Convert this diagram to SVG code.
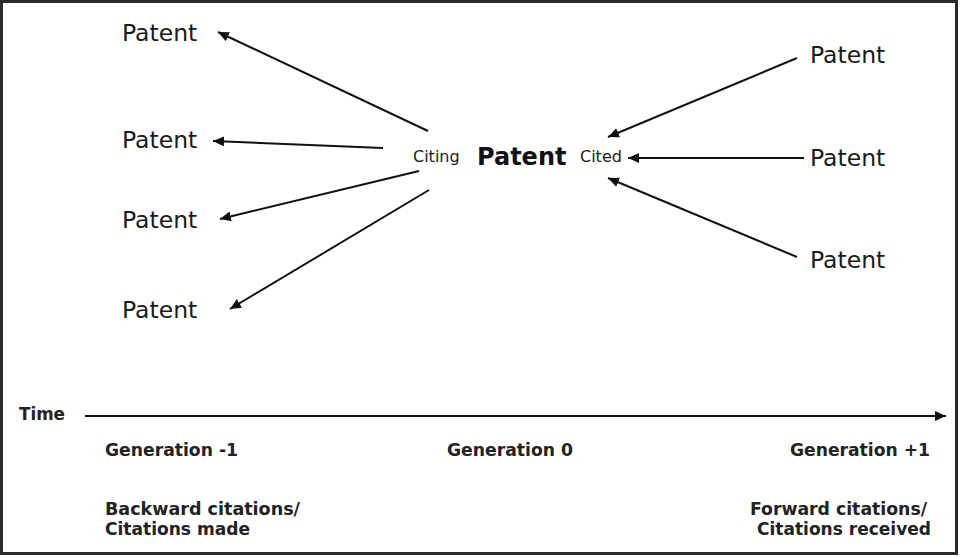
<svg xmlns="http://www.w3.org/2000/svg" width="960" height="557" viewBox="0 0 960 557">
<style>
.p{font-family:"DejaVu Sans","Liberation Sans",sans-serif;font-size:23.5px;fill:#1a1a1a}
.s{font-family:"DejaVu Sans","Liberation Sans",sans-serif;font-size:16px;fill:#1a1a1a}
.c{font-family:"DejaVu Sans","Liberation Sans",sans-serif;font-size:24px;font-weight:bold;fill:#111}
.b{font-family:"DejaVu Sans Condensed","DejaVu Sans","Liberation Sans",sans-serif;font-stretch:condensed;font-size:17px;font-weight:bold;fill:#222}
.l{stroke:#111;stroke-width:2;fill:none;marker-end:url(#ah)}
</style>
<defs>
<marker id="ah" markerUnits="userSpaceOnUse" markerWidth="12" markerHeight="10" refX="11" refY="5" orient="auto">
<path d="M0,0 L11,5 L0,10 z" fill="#111"/>
</marker>
</defs>
<rect x="0" y="0" width="960" height="557" fill="#fff"/>
<rect x="1.5" y="1.5" width="955" height="552" fill="none" stroke="#2a2a2a" stroke-width="3"/>
<g id="center">
<text class="s" x="413" y="162">Citing</text>
<text class="c" x="477" y="165">Patent</text>
<text class="s" x="580" y="162">Cited</text>
</g>
<g id="left1"><text class="p" x="122" y="41">Patent</text></g>
<g id="left2"><text class="p" x="122" y="148">Patent</text></g>
<g id="left3"><text class="p" x="122" y="228">Patent</text></g>
<g id="left4"><text class="p" x="122" y="318">Patent</text></g>
<g id="right1"><text class="p" x="810" y="63">Patent</text></g>
<g id="right2"><text class="p" x="810" y="166">Patent</text></g>
<g id="right3"><text class="p" x="810" y="268">Patent</text></g>
<g id="connectors">
<line class="l" x1="428" y1="131" x2="218" y2="32"/>
<line class="l" x1="383" y1="148" x2="213" y2="141"/>
<line class="l" x1="419" y1="171" x2="220" y2="219"/>
<line class="l" x1="429" y1="190" x2="230" y2="309"/>
<line class="l" x1="797" y1="58" x2="608" y2="137"/>
<line class="l" x1="804" y1="158" x2="628" y2="158"/>
<line class="l" x1="797" y1="257" x2="608" y2="178"/>
<line class="l" x1="85" y1="416" x2="946" y2="416"/>
</g>
<g id="timeline">
<text class="b" x="19" y="420" textLength="46" lengthAdjust="spacingAndGlyphs">Time</text>
<text class="b" x="105" y="456" textLength="133" lengthAdjust="spacingAndGlyphs">Generation -1</text>
<text class="b" x="447" y="456" textLength="126" lengthAdjust="spacingAndGlyphs">Generation 0</text>
<text class="b" x="790" y="456" textLength="140" lengthAdjust="spacingAndGlyphs">Generation +1</text>
<text class="b" x="105" y="515" textLength="195" lengthAdjust="spacingAndGlyphs">Backward citations/</text>
<text class="b" x="105" y="535" textLength="145" lengthAdjust="spacingAndGlyphs">Citations made</text>
<text class="b" x="750" y="515" textLength="177" lengthAdjust="spacingAndGlyphs">Forward citations/</text>
<text class="b" x="757" y="535" textLength="174" lengthAdjust="spacingAndGlyphs">Citations received</text>
</g>
</svg>
